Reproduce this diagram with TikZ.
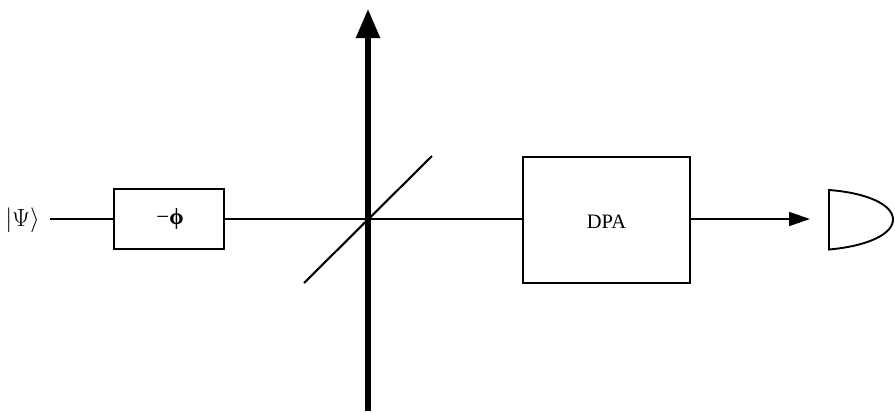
\documentclass[tikz,border=0pt]{standalone}
\usepackage{fontspec}
\setmainfont{Liberation Serif}
\usetikzlibrary{arrows.meta}
\tikzset{
  wire/.style={line width=1.7pt,draw=black},
  boxn/.style={draw=black,line width=2.2pt,inner sep=0pt,outer sep=0pt,anchor=north west},
  lbl/.style={inner sep=0pt,text=black},
  headed/.style={-{Triangle[length=21pt,width=14pt]}},
}
\begin{document}
\begin{tikzpicture}[x=1pt,y=-1pt]
\useasboundingbox (0,0) rectangle (895,413);
\fill[white] (0,0) rectangle (895,413);
\node[boxn,minimum width=110pt,minimum height=60pt] (phase) at (114,189) {};
\node[boxn,minimum width=167pt,minimum height=126pt] (dpa) at (523,157) {};
\node[lbl,font=\fontsize{26}{26}\selectfont] (psi) at (22.5,220) {$|\Psi\rangle$};
\node[lbl,font=\fontsize{23}{23}\selectfont] (phi) at (170,219) {−\textbf{ϕ}};
\node[lbl,font=\fontsize{20.5}{21}\selectfont] (dpat) at (606.5,222) {DPA};
\coordinate (in) at (50,219);
\coordinate (c) at (368,219);
\coordinate (bot) at (368,411);
\coordinate (top) at (368,9);
\coordinate (d1) at (304,283);
\coordinate (d2) at (432,156);
\coordinate (tip) at (810,219);
\coordinate (dt) at (829,190);
\coordinate (db) at (829,249.5);
\coordinate (dr) at (893,219.5);
\draw[line width=2.6pt] (in) -- (phase.west);
\draw[wire] (phase.east) -- (c) -- (c -| dpa.west);
\draw[line width=2.1pt] (d1) -- (d2);
\draw[line width=5.5pt,-{Triangle[length=29pt,width=23pt]}] (bot) -- (top);
\draw[wire,headed] (c -| dpa.east) -- (tip);
\draw[line width=1.9pt] (dt) .. controls (868,193) and (893,205) .. (dr) .. controls (893,234) and (868,246) .. (db) -- cycle;
\end{tikzpicture}
\end{document}
